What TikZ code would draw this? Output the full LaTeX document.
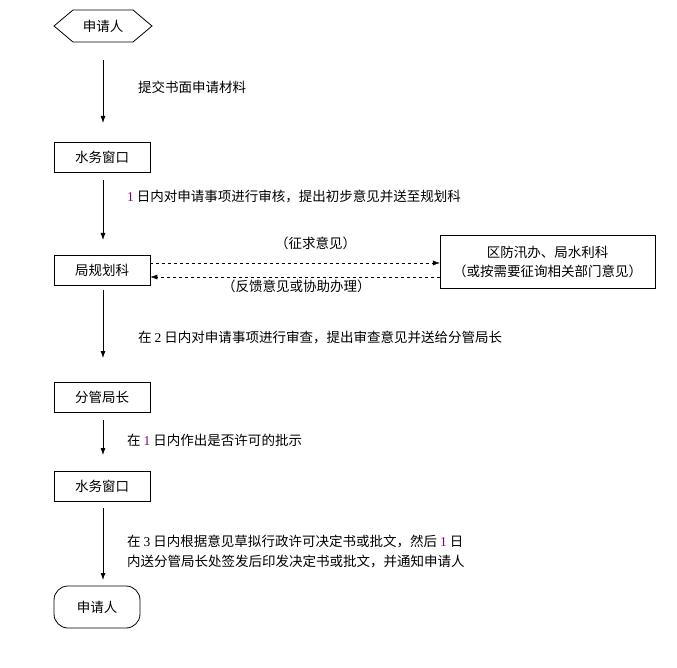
\documentclass[tikz,border=0pt]{standalone}
\usepackage{fontspec}
\setmainfont{Liberation Serif}
\newfontfamily\cjk{Noto Sans CJK SC}
\usetikzlibrary{arrows.meta,shapes.misc}
\definecolor{num}{RGB}{128,0,128}
\newcommand{\dg}[1]{{\rmfamily #1}}
\begin{document}
\begin{tikzpicture}[x=1pt,y=-1pt,
  box/.style={draw,thick,minimum width=96pt,minimum height=30pt,inner sep=0pt,font=\cjk\fontsize{13.5}{15}\selectfont},
  lbl/.style={anchor=west,font=\cjk\fontsize{13.5}{16}\selectfont,inner sep=0pt,align=left},
  arr/.style={-{Latex[length=7pt,width=5pt]},thick},
  darr/.style={-{Latex[length=7pt,width=5pt]},dashed}]
\useasboundingbox (0,0) rectangle (677,668);
\node[box,draw=none] (a) at (103,26) {申请人};
\draw[thick] (54,26)--(73,10)--(133,10)--(152,26)--(133,42)--(73,42)--cycle;
\coordinate (atop) at (103,60);
\node[box] (b) at (102,157) {水务窗口};
\node[box] (c) at (102,270) {局规划科};
\node[box,minimum width=215pt,minimum height=53pt,thin,align=center,font=\cjk\fontsize{13.5}{19}\selectfont] (r) at (547.5,261.5) {区防汛办、局水利科\\（或按需要征询相关部门意见）};
\node[box] (d) at (102,397) {分管局长};
\node[box] (e) at (102,486) {水务窗口};
\node[box,rounded corners=14pt,minimum width=86pt,minimum height=42pt] (f) at (97,607) {申请人};
\draw[arr] (atop)--(103,123);
\draw[arr] (103,180)--(103,240);
\draw[arr] (103,290)--(103,358);
\draw[arr] (103,420)--(103,455);
\draw[arr] (103,508)--(103,580);
\draw[darr] (c.east|-0,263)--(r.west|-0,263);
\draw[darr] (r.west|-0,277)--(c.east|-0,277);
\node[lbl] at (138,87) {提交书面申请材料};
\node[lbl] at (127,196) {{\color{num}\dg{1}} 日内对申请事项进行审核，提出初步意见并送至规划科};
\node[lbl] at (275,243) {（征求意见）};
\node[lbl] at (222,286) {（反馈意见或协助办理）};
\node[lbl] at (138,337) {在 \dg{2} 日内对申请事项进行审查，提出审查意见并送给分管局长};
\node[lbl] at (127,440) {在 {\color{num}\dg{1}} 日内作出是否许可的批示};
\node[lbl,font=\cjk\fontsize{13.5}{20}\selectfont] at (127,551) {在 \dg{3} 日内根据意见草拟行政许可决定书或批文，然后 {\color{num}\dg{1}} 日\\内送分管局长处签发后印发决定书或批文，并通知申请人};
\end{tikzpicture}
\end{document}
